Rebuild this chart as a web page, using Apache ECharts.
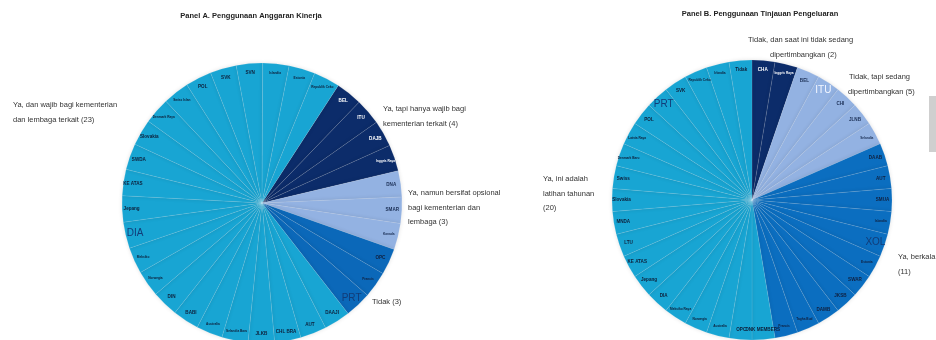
<!DOCTYPE html>
<html><head><meta charset="utf-8">
<script src="https://cdn.jsdelivr.net/npm/echarts@6/dist/echarts.min.js"></script>
<style>html,body{margin:0;padding:0;background:#fff}#c{width:936px;height:340px}</style>
</head><body><div id="c"></div>
<script>
// ---------- Data ----------
const titleA = "Panel A. Penggunaan Anggaran Kinerja";
const titleB = "Panel B. Penggunaan Tinjauan Pengeluaran";

// Panel A groups (clockwise order as drawn)
const groupsA = ["Ya, tapi hanya wajib bagi\nkementerian terkait (4)",
                 "Ya, namun bersifat opsional\nbagi kementerian dan\nlembaga (3)",
                 "Tidak (3)",
                 "Ya, dan wajib bagi kementerian\ndan lembaga terkait (23)"];
const countsA = [4, 3, 3, 23];
const countriesA = [
  ["BEL", "ITU", "DAJB", "Inggris Raya"],
  ["DNA", "SMAR", "Kanada"],
  ["OPC", "Prancis", "PRT"],
  ["DAAJI", "AUT", "CHL BRA", "JLKB", "Selandia Baru", "Australia", "BABI", "DIN", "Norwegia", "Meksiko",
   "DIA", "Jepang", "KE ATAS", "SWDA", "Slovakia", "Denmark Raya", "Swiss Islan", "POL", "SVK", "SVN",
   "Islandia", "Estonia", "Republik Ceko"]
];
const bigA = ["PRT", "DIA"];

// Panel B groups
const groupsB = ["Tidak, dan saat ini tidak sedang\ndipertimbangkan (2)",
                 "Tidak, tapi sedang\ndipertimbangkan (5)",
                 "Ya, berkala\n(11)",
                 "Ya, ini adalah\nlatihan tahunan\n(20)"];
const countsB = [2, 5, 11, 20];
const countriesB = [
  ["CHA", "Inggris Raya"],
  ["BEL", "ITU", "CHI", "JLNB", "Selandia"],
  ["DAAB", "AUT", "SMUA", "Islandia", "XOL", "Estonia", "SWAR", "JKSB", "DAMB", "Tagha Bud", "Prancis"],
  ["DNK MEMBERS", "OPC", "Australia", "Norwegia", "Meksiko Raya", "DIA", "Jepang", "KE ATAS", "LTU", "MNDA",
   "Slovakia", "Swiss", "Denmark Baru", "Latvia Raya", "POL", "PRT", "SVK", "Republik Ceko", "Irlandia", "Tidak"]
];
const bigB = ["ITU", "XOL", "PRT"];

const tinyLabels = ["Inggris Raya", "Kanada", "Prancis", "Selandia Baru", "Australia", "Norwegia", "Meksiko",
  "Denmark Raya", "Swiss Islan", "Islandia", "Estonia", "Republik Ceko", "Selandia", "Tagha Bud",
  "Meksiko Raya", "Denmark Baru", "Latvia Raya", "Irlandia"];

const colors = ["#0c2c6a", "#93b2e2", "#0b68b9", "#18a5d3"];
const colorsB = ["#0c2c6a", "#93b2e2", "#0b6ec0", "#18a5d3"];

// ---------- Build ----------
function buildData(countries, cols, labelColors, bigLabels) {
  const d = [];
  countries.forEach((list, gi) => {
    list.forEach(name => {
      const big = bigLabels.includes(name);
      const tiny = tinyLabels.includes(name);
      d.push({
        name: name, value: 1,
        itemStyle: { color: cols[gi] },
        label: {
          fontSize: big ? 10 : (tiny ? 3.2 : 4.6),
          fontWeight: big ? 'normal' : 'bold',
          color: big ? (gi === 1 ? '#f2f6ff' : '#123c78') : labelColors[gi]
        }
      });
    });
  });
  return d;
}

function pieSeries(center, startAngle, data) {
  return [{
    type: 'pie', center: center, radius: [0, 140], startAngle: startAngle, clockwise: true,
    silent: true, animation: false, avoidLabelOverlap: false,
    itemStyle: { borderColor: 'rgba(255,255,255,0.2)', borderWidth: 0.5,
                 shadowBlur: 4, shadowColor: 'rgba(0,0,0,0.12)' },
    label: { show: false }, labelLine: { show: false },
    data: data.map(x => ({ name: x.name, value: x.value, itemStyle: x.itemStyle }))
  }, {
    type: 'pie', center: center, radius: [118, 137], startAngle: startAngle, clockwise: true,
    silent: true, animation: false, avoidLabelOverlap: false,
    itemStyle: { color: 'rgba(0,0,0,0)', borderWidth: 0 },
    label: { show: true, position: 'inside', fontFamily: 'Liberation Sans, Arial, sans-serif',
             formatter: '{b}' },
    labelLine: { show: false },
    labelLayout: { hideOverlap: false },
    data: data.map(x => ({ name: x.name, value: x.value, itemStyle: { color: 'rgba(0,0,0,0)' }, label: x.label }))
  }];
}

const dataA = buildData(countriesA, colors, ['#ffffff', '#1b2f55', '#10203f', '#0e1f3a'], bigA);
const dataB = buildData(countriesB, colorsB, ['#ffffff', '#1b2f55', '#10203f', '#0e1f3a'], bigB);

const FONT = '7.5px "Liberation Sans", Arial, sans-serif';
const txt = (x, y, t) => ({
  type: 'text', left: x, top: y, silent: true,
  style: { text: t, fill: '#333', font: FONT, lineHeight: 14.5 }
});
const line = (x, y, t) => ({
  type: 'text', left: x, top: y, silent: true,
  style: { text: t, fill: '#333', font: FONT }
});

const chart = echarts.init(document.getElementById('c'), null, { renderer: 'canvas' });
chart.setOption({
  backgroundColor: '#ffffff',
  animation: false,
  title: [
    { text: titleA, left: 246, top: 7, textAlign: 'center',
      textStyle: { fontSize: 7.5, fontWeight: 'bold', color: '#222', fontFamily: 'Liberation Sans, Arial, sans-serif' } },
    { text: titleB, left: 755, top: 5, textAlign: 'center',
      textStyle: { fontSize: 7.5, fontWeight: 'bold', color: '#222', fontFamily: 'Liberation Sans, Arial, sans-serif' } }
  ],
  series: [].concat(pieSeries([262, 203], 57, dataA), pieSeries([752, 200], 90, dataB)),
  graphic: [
    txt(13, 98, groupsA[3]),
    txt(383, 102, groupsA[0]),
    txt(408, 186, groupsA[1]),
    txt(372, 295, groupsA[2]),
    line(748, 36, groupsB[0].split('\n')[0]),
    line(770, 51, groupsB[0].split('\n')[1]),
    line(849, 73, groupsB[1].split('\n')[0]),
    line(848, 88, groupsB[1].split('\n')[1]),
    txt(898, 250, groupsB[2]),
    txt(543, 172, groupsB[3]),
    { type: 'rect', left: 929, top: 96, silent: true, shape: { width: 7, height: 56 }, style: { fill: '#cfcfcf' } }
  ]
});
</script>
</body></html>
